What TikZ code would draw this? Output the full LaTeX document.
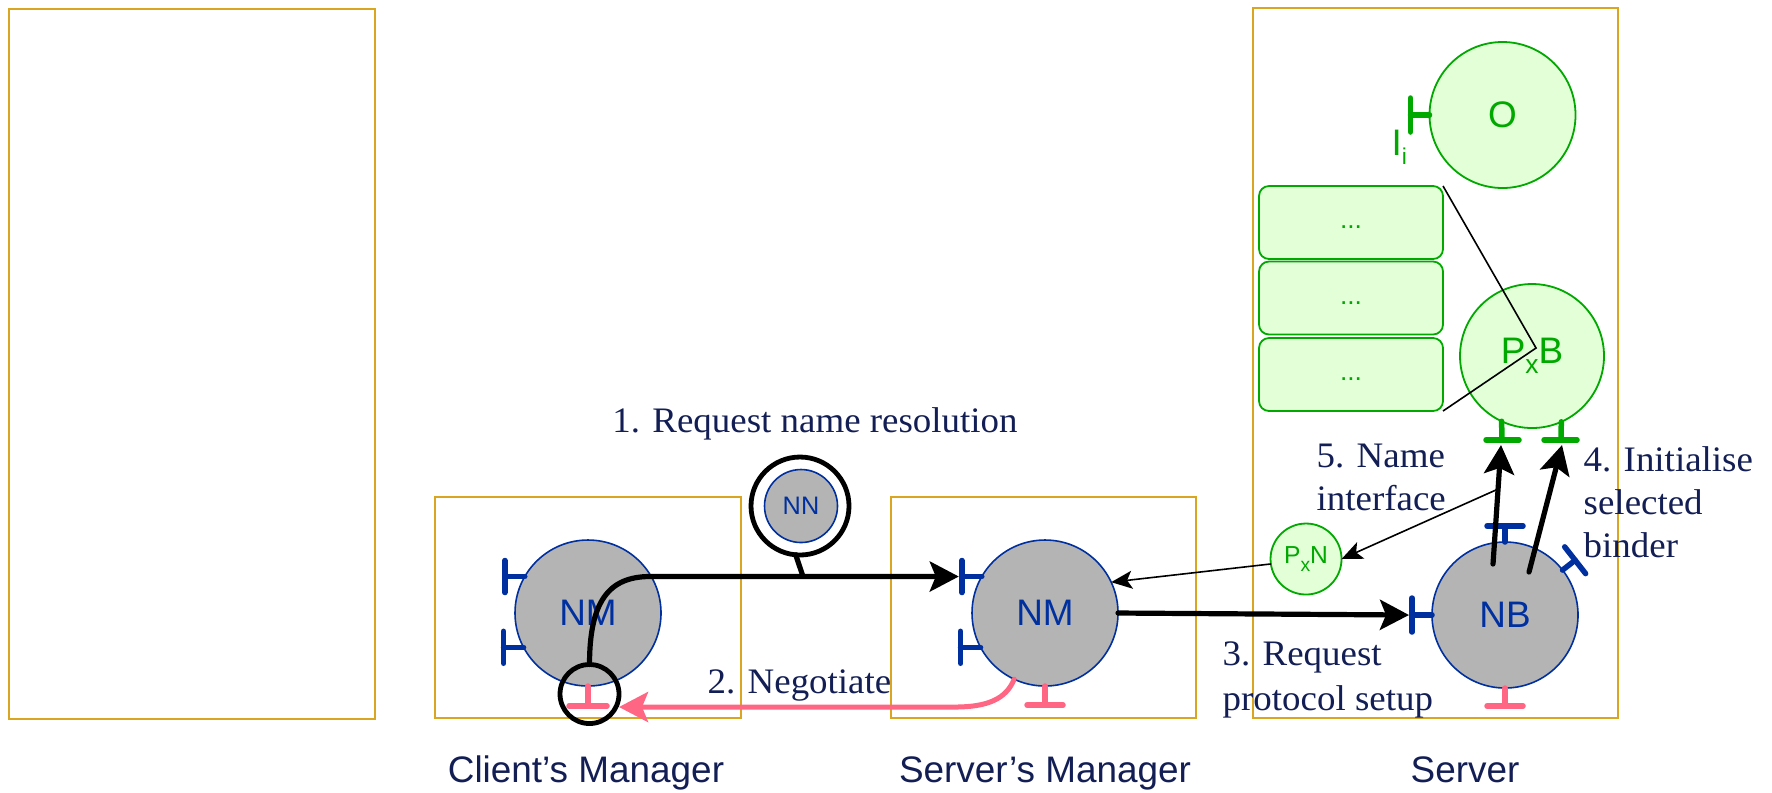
\documentclass[tikz,border=0pt]{standalone}
\usepackage{fontspec}
\setsansfont{Liberation Sans}
\newfontfamily\seriflbl[FakeStretch=1.03]{Liberation Serif}
\usetikzlibrary{arrows.meta,calc}
\definecolor{boxc}{RGB}{218,165,32}
\definecolor{navyc}{RGB}{18,30,84}
\definecolor{bluec}{RGB}{0,48,160}
\definecolor{grayc}{RGB}{180,180,180}
\definecolor{greenc}{RGB}{0,168,0}
\definecolor{greenf}{RGB}{226,255,216}
\definecolor{pinkc}{RGB}{255,102,132}
\newcommand{\lowsub}[3]{\raisebox{-#1}{\fontsize{#2}{#2}\selectfont #3}}
\tikzset{
  box/.style={draw=boxc, line width=0.17mm, inner sep=0pt, outer sep=0pt},
  nmnode/.style={circle, draw=bluec, fill=grayc, line width=0.16mm, minimum size=14.6mm, inner sep=0pt, outer sep=0pt, text=bluec, font=\sffamily\fontsize{10.5}{12}\selectfont},
  gnode/.style={circle, draw=greenc, fill=greenf, line width=0.18mm, inner sep=0pt, outer sep=0pt, text=greenc, font=\sffamily\fontsize{10.5}{12}\selectfont},
  stackbox/.style={rectangle, rounded corners=1mm, draw=greenc, fill=greenf, line width=0.18mm, minimum width=18.4mm, minimum height=7.3mm, inner sep=0pt, outer sep=0pt, text=greenc, font=\sffamily\fontsize{7.5}{8}\selectfont},
  ringnode/.style={circle, draw=black, line width=0.48mm, inner sep=0pt, outer sep=0pt},
  bpin/.style={draw=bluec, line width=0.55mm, line cap=round},
  ppin/.style={draw=pinkc, line width=0.55mm, line cap=round},
  gpin/.style={draw=greenc, line width=0.55mm, line cap=round},
  bigarrow/.style={draw=black, line width=0.52mm, line cap=round, -{Stealth[length=2.9mm,width=3mm,inset=0.6mm]}},
  pinkarrow/.style={draw=pinkc, line width=0.5mm, line cap=round, -{Stealth[length=2.9mm,width=3mm,inset=0.6mm]}},
  thinarrow/.style={draw=black, line width=0.16mm, -{Stealth[length=2.1mm,width=1.8mm,inset=0.5mm]}},
  thinline/.style={draw=black, line width=0.16mm},
  lbl/.style={text=navyc, font=\seriflbl\fontsize{10.2}{12}\selectfont, inner sep=0pt},
  caption/.style={text=navyc, font=\sffamily\fontsize{10.5}{12}\selectfont, inner sep=0pt}
}
\begin{document}
\begin{tikzpicture}[x=0.1mm,y=-0.1mm]
\useasboundingbox (0,0) rectangle (1772,792);
% container boxes
\node[box, anchor=north west, minimum width=36.6mm, minimum height=71mm] (lbox) at (9,9) {};
\node[box, anchor=north west, minimum width=30.6mm, minimum height=22.1mm] (cbox) at (435,497) {};
\node[box, anchor=north west, minimum width=30.5mm, minimum height=22.1mm] (smbox) at (891,497) {};
\node[box, anchor=north west, minimum width=36.5mm, minimum height=71mm] (srvbox) at (1253,8) {};
% captions
\node[caption, anchor=base] (capC) at (586,782) {Client’s Manager};
\node[caption, anchor=base] (capS) at (1045,782) {Server’s Manager};
\node[caption, anchor=base] (capV) at (1465,782) {Server};
% main nodes
\node[nmnode] (nmL) at (588,613) {NM};
\node[nmnode] (nmR) at (1045,613) {NM};
\node[nmnode] (nb) at (1505,615) {NB};
\node[nmnode, minimum size=7.3mm, font=\sffamily\fontsize{7.2}{8}\selectfont] (nn) at (801,506) {NN};
\node[ringnode, minimum size=9.8mm] (nnring) at (800,506) {};
\node[gnode, minimum size=14.6mm] (obj) at (1502.5,115) {O};
\node[gnode, minimum size=14.4mm] (pxb) at (1532,356) {P\lowsub{2.8pt}{7.5}{x}B};
\node[gnode, minimum size=7.1mm, font=\sffamily\fontsize{7}{8}\selectfont] (pxn) at (1306,559) {P\lowsub{2pt}{5.5}{x}N};
\node[stackbox] (r1) at (1351,222.5) {\vphantom{Ag}...};
\node[stackbox] (r2) at (1351,298) {\vphantom{Ag}...};
\node[stackbox] (r3) at (1351,374.5) {\vphantom{Ag}...};
\node[anchor=base west, inner sep=0pt, text=greenc, font=\sffamily\fontsize{10.5}{12}\selectfont] (ii) at (1391,155) {I\lowsub{2.8pt}{6.5}{i}};
% pins of client NM
\draw[bpin] (nmL.150) -- ++(-20,0) coordinate (cL1);
\draw[bpin] ($(cL1)+(0,-16)$) -- ($(cL1)+(0,16)$);
\draw[bpin] (nmL.208) -- ++(-20,0) coordinate (cL2);
\draw[bpin] ($(cL2)+(0,-16)$) -- ($(cL2)+(0,16)$);
\draw[ppin] (nmL.south) -- ++(0,20) coordinate (cLp);
\draw[ppin] ($(cLp)+(-19,0)$) -- ($(cLp)+(19,0)$);
% pins of server NM
\draw[bpin] (nmR.150) -- ++(-20,0) coordinate (cR1);
\draw[bpin] ($(cR1)+(0,-16)$) -- ($(cR1)+(0,16)$);
\draw[bpin] (nmR.208) -- ++(-20,0) coordinate (cR2);
\draw[bpin] ($(cR2)+(0,-16)$) -- ($(cR2)+(0,16)$);
\draw[ppin] (nmR.south) -- ++(0,19) coordinate (cRp);
\draw[ppin] ($(cRp)+(-18,0)$) -- ($(cRp)+(18,0)$);
% pins of NB
\draw[bpin] (nb.west) -- ++(-20,0) coordinate (nbL);
\draw[bpin] ($(nbL)+(0,-17)$) -- ($(nbL)+(0,17)$);
\draw[bpin] (nb.north) -- ++(0,-16) coordinate (nbT);
\draw[bpin] ($(nbT)+(-18,0)$) -- ($(nbT)+(18,0)$);
\draw[bpin] (nb.38) -- ++(-38:16) coordinate (nbR);
\draw[bpin] ($(nbR)+(-128:17)$) -- ($(nbR)+(52:17)$);
\draw[ppin] (nb.south) -- ++(0,18) coordinate (nbP);
\draw[ppin] ($(nbP)+(-18,0)$) -- ($(nbP)+(18,0)$);
% pin of O
\draw[gpin] (obj.west) -- ++(-19,0) coordinate (oI);
\draw[gpin] ($(oI)+(0,-17)$) -- ($(oI)+(0,17)$);
% pins of PxB
\coordinate (gp1) at (1502,440);
\coordinate (gp2) at (1561,440);
\draw[gpin] (pxb.245) -- (gp1);
\draw[gpin] ($(gp1)+(-16,0)$) -- ($(gp1)+(17,0)$);
\draw[gpin] (pxb.294) -- (gp2);
\draw[gpin] ($(gp2)+(-17,0)$) -- ($(gp2)+(16,0)$);
% bracket from stack to PxB
\coordinate (apex) at (1536,348);
\draw[thinline] (r1.north east) -- (apex) -- (r3.south east);
% ring round client's pink pin
\node[ringnode, minimum size=5.9mm] (ring) at (589.5,694) {};
% 1. request name resolution
\coordinate (knee) at (650,576.5);
\coordinate (a1t) at ($(cR1)+(-3,0)$);
\draw[bigarrow] (ring.north) .. controls +(0,-62) and +(-42,0) .. (knee) -- (a1t);
\coordinate (stub) at (803,576.5);
\draw[draw=black, line width=0.52mm, line cap=round] (nnring.265) -- (stub);
% 2. negotiate
\coordinate (knee2) at (955,707);
\coordinate (ptip) at (619,707);
\draw[pinkarrow] (nmR.245) .. controls +(-8,20) and +(32,0) .. (knee2) -- (ptip);
% 3. request protocol setup
\coordinate (a3e) at ($(nbL)+(-3,0)$);
\draw[bigarrow] (nmR.east) -- (a3e);
% 4 and 5
\coordinate (a1s) at ($(nb.center)+(-12,-51)$);
\coordinate (a1e) at ($(gp1)+(-1,5)$);
\coordinate (a2s) at ($(nb.center)+(24,-43)$);
\coordinate (a2e) at ($(gp2)+(1,5)$);
\draw[bigarrow] (a1s) -- (a1e);
\draw[bigarrow] (a2s) -- (a2e);
\draw[thinarrow] ($(a1s)!0.63!(a1e)$) -- (pxn.east);
\draw[thinarrow] (pxn.188) -- (nmR.25);
% labels
\node[lbl, anchor=base] (t1) at (815,432) {1. Request name resolution};
\node[lbl, anchor=base west] (t2) at (707,693) {2. Negotiate};
\node[lbl, anchor=base west] (t3a) at (1222,665) {3. Request};
\node[lbl, anchor=base west] (t3b) at (1222,710) {protocol setup};
\node[lbl, anchor=base west] (t5a) at (1316,467) {5. Name};
\node[lbl, anchor=base west] (t5b) at (1316,510) {interface};
\node[lbl, anchor=base west] (t4a) at (1583,471) {4. Initialise};
\node[lbl, anchor=base west] (t4b) at (1583,514) {selected};
\node[lbl, anchor=base west] (t4c) at (1583,557) {binder};
\end{tikzpicture}
\end{document}
